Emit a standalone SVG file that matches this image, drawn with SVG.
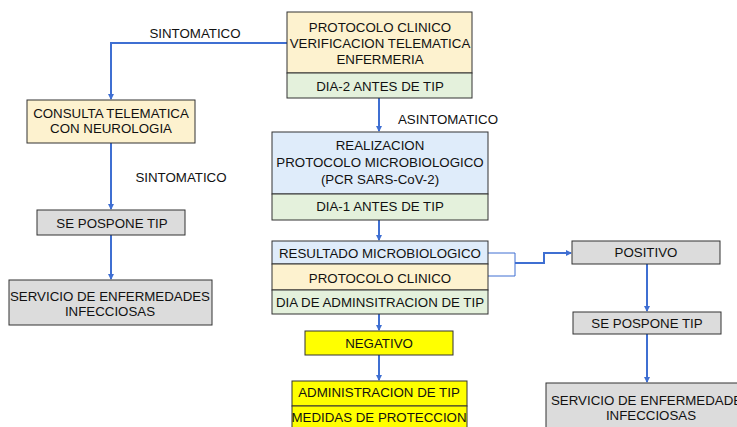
<svg xmlns="http://www.w3.org/2000/svg" width="737" height="427" viewBox="0 0 737 427">
<style>
.b{stroke:#333;stroke-width:1}
.cream{fill:#fdf2cf}
.green{fill:#e4f1dc}
.blue{fill:#dfecfa}
.grey{fill:#dcdcdc}
.yel{fill:#ffff00}
text{font-family:"Liberation Sans",Arial,sans-serif;font-size:13.3px;fill:#111;text-anchor:middle}
.c{fill:none;stroke:#3f6fd2;stroke-width:2}
.t{fill:none;stroke:#3f6fd2;stroke-width:1}
</style>
<defs>
<marker id="ah" viewBox="0 0 6 6" refX="5" refY="3" markerWidth="3" markerHeight="3" orient="auto">
<path d="M0,0L6,3L0,6z" fill="#3f6fd2"/>
</marker>
</defs>
<rect width="737" height="427" fill="#fff"/>
<g id="connectors">
<path class="c" d="M287,43H111V99" marker-end="url(#ah)"/>
<path class="c" d="M111,143V209" marker-end="url(#ah)"/>
<path class="c" d="M111,235V279" marker-end="url(#ah)"/>
<path class="c" d="M379,98V131" marker-end="url(#ah)"/>
<path class="c" d="M379,210V240" marker-end="url(#ah)"/>
<path class="t" d="M488,253H515V276H488"/>
<path class="c" d="M515,263H544V253H571" marker-end="url(#ah)"/>
<path class="c" d="M647,264V311" marker-end="url(#ah)"/>
<path class="c" d="M647,334V382" marker-end="url(#ah)"/>
<path class="c" d="M379,314V330" marker-end="url(#ah)"/>
<path class="c" d="M379,355V380" marker-end="url(#ah)"/>
</g>
<g id="labels">
<text x="195" y="38">SINTOMATICO</text>
<text x="181" y="182">SINTOMATICO</text>
<text x="448" y="124">ASINTOMATICO</text>
</g>
<g id="n-protocolo">
<rect class="b cream" x="287" y="12" width="185" height="61"/>
<rect class="b green" x="287" y="73" width="185" height="25"/>
<text x="380" y="32">PROTOCOLO CLINICO</text>
<text x="380" y="48">VERIFICACION TELEMATICA</text>
<text x="380" y="64">ENFERMERIA</text>
<text x="380" y="91">DIA-2 ANTES DE TIP</text>
</g>
<g id="n-consulta">
<rect class="b cream" x="27" y="100" width="168" height="43"/>
<text x="111" y="117.5">CONSULTA TELEMATICA</text>
<text x="111" y="132.5">CON NEUROLOGIA</text>
</g>
<g id="n-pospone-l">
<rect class="b grey" x="37" y="210" width="148" height="25"/>
<text x="112" y="227.5">SE POSPONE TIP</text>
</g>
<g id="n-servicio-l">
<rect class="b grey" x="9" y="280" width="203" height="45"/>
<text x="110" y="300.5">SERVICIO DE ENFERMEDADES</text>
<text x="110" y="315.5">INFECCIOSAS</text>
</g>
<g id="n-realizacion">
<rect class="b blue" x="272" y="132" width="216" height="62"/>
<rect class="b green" x="272" y="194" width="216" height="26"/>
<text x="380" y="149.5">REALIZACION</text>
<text x="380" y="166.5">PROTOCOLO MICROBIOLOGICO</text>
<text x="380" y="183.5">(PCR SARS-CoV-2)</text>
<text x="380" y="211">DIA-1 ANTES DE TIP</text>
</g>
<g id="n-resultado">
<rect class="b blue" x="272" y="241" width="216" height="23"/>
<rect class="b cream" x="272" y="264" width="216" height="26"/>
<rect class="b green" x="272" y="290" width="216" height="24"/>
<text x="380" y="257.5">RESULTADO MICROBIOLOGICO</text>
<text x="380" y="282.5">PROTOCOLO CLINICO</text>
<text x="380" y="306.5">DIA DE ADMINSITRACION DE TIP</text>
</g>
<g id="n-positivo">
<rect class="b grey" x="572" y="241" width="148" height="23"/>
<text x="646" y="256.5">POSITIVO</text>
</g>
<g id="n-pospone-r">
<rect class="b grey" x="573" y="312" width="148" height="22"/>
<text x="647" y="328">SE POSPONE TIP</text>
</g>
<g id="n-servicio-r">
<rect class="b grey" x="546" y="383" width="210" height="50"/>
<text x="651" y="404.5">SERVICIO DE ENFERMEDADES</text>
<text x="651" y="419.5">INFECCIOSAS</text>
</g>
<g id="n-negativo">
<rect class="b yel" x="305" y="331" width="148" height="24"/>
<text x="379" y="347.5">NEGATIVO</text>
</g>
<g id="n-admin">
<rect class="b yel" x="292" y="381" width="175" height="25"/>
<rect class="b yel" x="292" y="406" width="175" height="30"/>
<text x="379" y="397">ADMINISTRACION DE TIP</text>
<text x="379" y="422">MEDIDAS DE PROTECCION</text>
</g>
</svg>
